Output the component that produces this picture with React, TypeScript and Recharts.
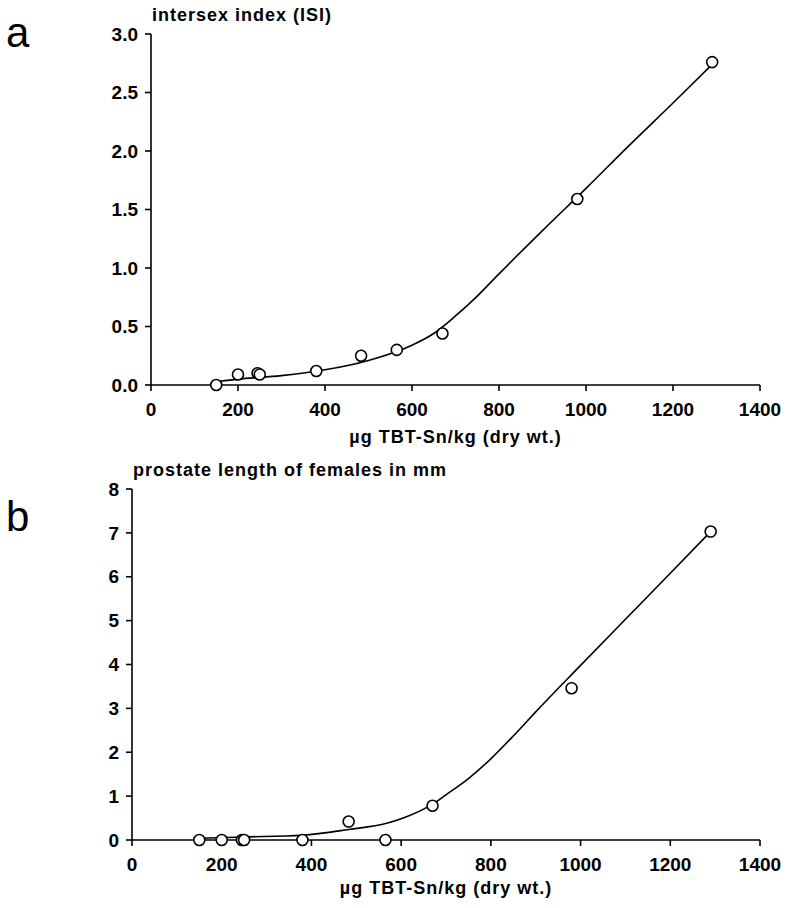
import React from "react";
import { ComposedChart, Line, Scatter, XAxis, YAxis } from "recharts";

// TBT concentration per site (µg TBT-Sn/kg dry wt.)
const siteTbt = [150, 200, 245, 250, 380, 483, 565, 670, 980, 1290];
const isiValues = [0.0, 0.09, 0.1, 0.09, 0.12, 0.25, 0.3, 0.44, 1.59, 2.76];
const prostateValues = [0.0, 0.0, 0.0, 0.0, 0.0, 0.42, 0.0, 0.78, 3.46, 7.03];

// fitted curves
const fitAX = [155, 200, 300, 400, 500, 600, 650, 700, 750, 800, 900, 1000, 1100, 1200, 1290];
const fitAY = [0.03, 0.05, 0.08, 0.13, 0.21, 0.34, 0.44, 0.59, 0.76, 0.95, 1.32, 1.68, 2.05, 2.41, 2.74];
const fitBX = [150, 250, 380, 483, 568, 612, 672, 700, 750, 800, 850, 900, 1000, 1100, 1200, 1290];
const fitBY = [0.04, 0.07, 0.11, 0.24, 0.38, 0.53, 0.83, 1.03, 1.4, 1.85, 2.37, 2.92, 3.98, 5.03, 6.08, 7.03];

const xTicks = [0, 200, 400, 600, 800, 1000, 1200, 1400];
const isiTicks = [0, 0.5, 1, 1.5, 2, 2.5, 3];
const prostateTicks = [0, 1, 2, 3, 4, 5, 6, 7, 8];

const FONT = "'Liberation Sans', Arial, sans-serif";
const xLabel = "µg TBT-Sn/kg (dry wt.)";

const pts = (xs: number[], ys: number[]) => xs.map((x, i) => ({ x, y: ys[i] }));

const OpenCircle = (props: any) => {
  const { cx, cy } = props;
  if (cx == null || cy == null) return null;
  return <circle cx={cx} cy={cy} r={5.5} fill="#fff" stroke="#000" strokeWidth={1.6} />;
};

const tickStyle = { fill: "#000", fontSize: 19, fontWeight: 700, fontFamily: FONT };

function Panel({
  top,
  height,
  axisWidth,
  ticks,
  domainMax,
  points,
  fit,
  fmt,
  labelOffset,
}: {
  top: number;
  height: number;
  axisWidth: number;
  ticks: number[];
  domainMax: number;
  points: { x: number; y: number }[];
  fit: { x: number; y: number }[];
  fmt: (v: number) => string;
  labelOffset: number;
}) {
  return (
    <div style={{ position: "absolute", left: 0, top }}>
      <ComposedChart
        width={787}
        height={height}
        margin={{ top: 34, right: 27, bottom: height - 385 - 60, left: 0 }}
      >
        <XAxis
          dataKey="x"
          type="number"
          domain={[0, 1400]}
          ticks={xTicks}
          height={60}
          stroke="#000"
          strokeWidth={1.6}
          tickSize={6}
          tickMargin={12}
          tick={tickStyle}
          label={{
            value: xLabel,
            position: "insideBottom",
            offset: labelOffset,
            style: {
              fill: "#000",
              fontSize: 18,
              fontWeight: 700,
              fontFamily: FONT,
              letterSpacing: 1,
            },
          }}
        />
        <YAxis
          dataKey="y"
          type="number"
          domain={[0, domainMax]}
          ticks={ticks}
          width={axisWidth}
          stroke="#000"
          strokeWidth={1.6}
          tickSize={6}
          tickMargin={7}
          tick={tickStyle}
          tickFormatter={fmt}
        />
        <Line
          data={fit}
          dataKey="y"
          type="monotone"
          stroke="#000"
          strokeWidth={1.6}
          dot={false}
          isAnimationActive={false}
        />
        <Scatter data={points} dataKey="y" shape={<OpenCircle />} isAnimationActive={false} />
      </ComposedChart>
    </div>
  );
}

export default function App() {
  const titleStyle: React.CSSProperties = {
    position: "absolute",
    fontFamily: FONT,
    fontWeight: 700,
    fontSize: 18,
    letterSpacing: 1,
    color: "#000",
    whiteSpace: "nowrap",
    lineHeight: 1,
  };
  const letterStyle: React.CSSProperties = {
    position: "absolute",
    fontFamily: FONT,
    fontSize: 42,
    color: "#000",
    lineHeight: 1,
  };
  return (
    <div
      style={{
        position: "absolute",
        left: 0,
        top: 0,
        width: 787,
        height: 908,
        background: "#fff",
        overflow: "hidden",
      }}
    >
      <Panel
        top={0}
        height={450}
        axisWidth={151}
        ticks={isiTicks}
        domainMax={3}
        points={pts(siteTbt, isiValues)}
        fit={pts(fitAX, fitAY)}
        fmt={(v) => v.toFixed(1)}
        labelOffset={2}
      />
      <Panel
        top={455}
        height={453}
        axisWidth={132}
        ticks={prostateTicks}
        domainMax={8}
        points={pts(siteTbt, prostateValues)}
        fit={pts(fitBX, fitBY)}
        fmt={(v) => String(v)}
        labelOffset={6}
      />
      <div style={{ ...titleStyle, left: 152, top: 6 }}>intersex index (ISI)</div>
      <div style={{ ...titleStyle, left: 133, top: 461 }}>prostate length of females in mm</div>
      <div style={{ ...letterStyle, left: 6, top: 12 }}>a</div>
      <div style={{ ...letterStyle, left: 6, top: 496 }}>b</div>
    </div>
  );
}
